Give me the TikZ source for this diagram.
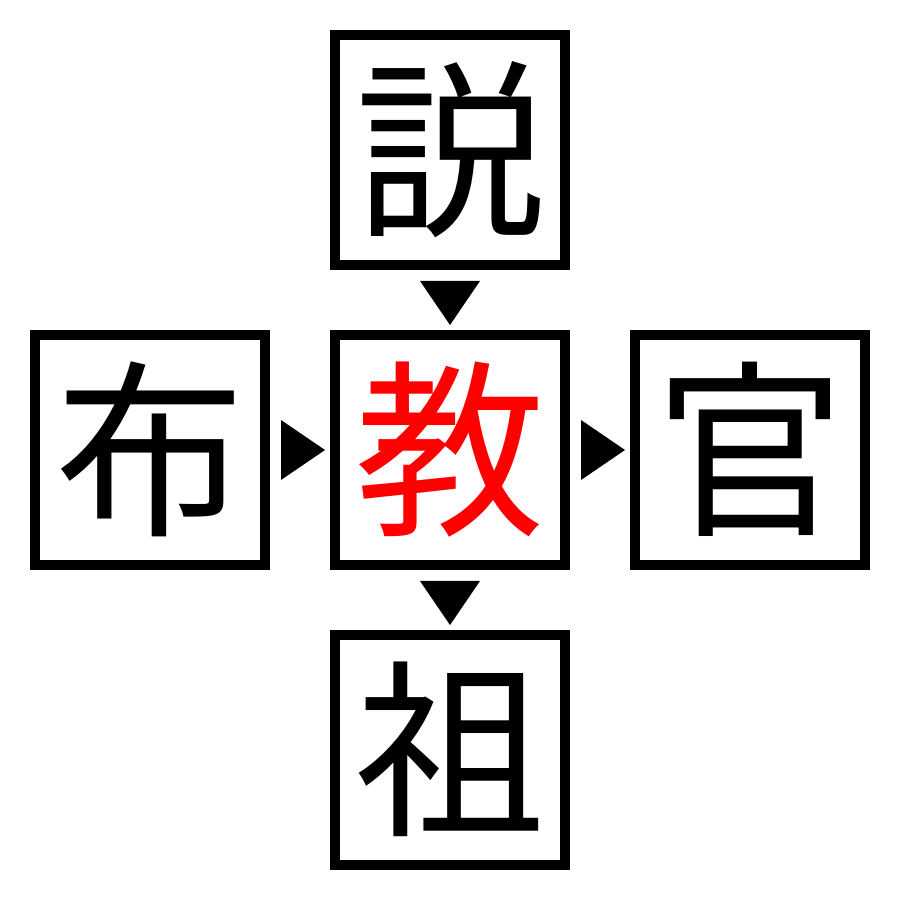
\documentclass[tikz,border=0pt]{standalone}
\usepackage{fontspec}
\newfontfamily\cjk{Noto Sans CJK JP}
\usetikzlibrary{calc}
\begin{document}
\begin{tikzpicture}[x=1pt,y=1pt,
  kbox/.style={draw=black,line width=10pt,minimum size=230pt,inner sep=0pt,
    font=\cjk\fontsize{190}{190}\selectfont,text height=167pt,text depth=23pt},
  tri/.style={fill=black}]
\useasboundingbox (0,0) rectangle (900,900);
\node[kbox] (t) at (450,750) {説};
\node[kbox] (l) at (150,450) {布};
\node[kbox,text=red] (c) at (450,450) {教};
\node[kbox] (r) at (750,450) {官};
\node[kbox] (b) at (450,150) {祖};
\fill[tri] ($(t.south)+(-30,-11)$) -- ($(t.south)+(30,-11)$) -- ($(c.north)+(0,5)$) -- cycle;
\fill[tri] ($(c.south)+(-30,-11)$) -- ($(c.south)+(30,-11)$) -- ($(b.north)+(0,5)$) -- cycle;
\fill[tri] ($(l.east)+(11,30)$) -- ($(l.east)+(11,-30)$) -- ($(c.west)+(-5,0)$) -- cycle;
\fill[tri] ($(c.east)+(11,30)$) -- ($(c.east)+(11,-30)$) -- ($(r.west)+(-5,0)$) -- cycle;
\end{tikzpicture}
\end{document}
